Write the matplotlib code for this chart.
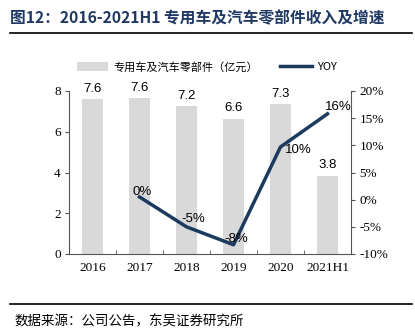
import matplotlib
matplotlib.use("Agg")
import matplotlib.pyplot as plt
from matplotlib.lines import Line2D
from matplotlib.patches import Patch

categories = ["2016", "2017", "2018", "2019", "2020", "2021H1"]
revenue = [7.6, 7.65, 7.25, 6.65, 7.35, 3.85]
revenue_labels = ["7.6", "7.6", "7.2", "6.6", "7.3", "3.8"]
yoy_cats = ["2017", "2018", "2019", "2020", "2021H1"]
yoy = [0.5, -5.0, -8.3, 9.7, 15.8]
yoy_labels = ["0%", "-5%", "-8%", "10%", "16%"]
left_ticks = [0, 2, 4, 6, 8]
right_ticks = [-10, -5, 0, 5, 10, 15, 20]

CJK = ["Noto Sans CJK SC", "DejaVu Sans"]
SERIF = ["Liberation Serif", "Noto Sans CJK SC"]
SANS = ["Liberation Sans", "DejaVu Sans"]

navy = "#1B3A5E"
gray = "#D9D9D9"

fig = plt.figure(figsize=(4.15, 3.33), dpi=100)
W, H = 415, 333
ax = fig.add_axes([69 / W, 1 - 254 / H, (351 - 69) / W, (254 - 91) / H])

x = list(range(len(categories)))
ax.bar(x, revenue, width=0.45, color=gray, zorder=1)
for xi, v, lab in zip(x, revenue, revenue_labels):
    ax.text(xi, v + 0.2, lab, ha="center", va="bottom", fontsize=9.5, family=SANS)
ax.set_xlim(-0.5, len(categories) - 0.5)
ax.set_ylim(0, 8)
ax.set_yticks(left_ticks)
ax.set_yticklabels([str(t) for t in left_ticks], family=SERIF, fontsize=9.5)
ax.set_xticks(x)
ax.set_xticklabels(categories, family=SERIF, fontsize=9.5)
ax.set_xticks([i + 0.5 for i in range(-1, len(categories))], minor=True)
ax.tick_params(axis="x", which="major", length=0, pad=6)
ax.tick_params(axis="x", which="minor", length=3, direction="in", color="#555555")
ax.tick_params(axis="y", length=3, direction="out", color="#555555", pad=3)
for s in ["top", "right"]:
    ax.spines[s].set_visible(False)
for s in ["left", "bottom"]:
    ax.spines[s].set_color("#555555")
    ax.spines[s].set_linewidth(0.8)

ax2 = ax.twinx()
xy = [categories.index(c) for c in yoy_cats]
ax2.plot(xy, yoy, color=navy, linewidth=2.5, zorder=3)
ax2.set_ylim(-10, 20)
ax2.set_yticks(right_ticks)
ax2.set_yticklabels([f"{t}%" for t in right_ticks], family=SERIF, fontsize=9.5)
ax2.tick_params(axis="y", length=3, direction="out", color="#555555", pad=3)
for s in ["top", "left", "bottom"]:
    ax2.spines[s].set_visible(False)
ax2.spines["right"].set_color("#555555")
ax2.spines["right"].set_linewidth(0.8)

offsets = [(0.05, 0.9), (0.15, 1.5), (0.06, 1.0), (0.37, -0.5), (0.24, 1.3)]
for xi, v, lab, (dx, dy) in zip(xy, yoy, yoy_labels, offsets):
    ax2.text(xi + dx, v + dy, lab, ha="center", va="center", fontsize=9.5,
             family=SANS, zorder=4)

# title
fig.text(10 / W, 1 - 18 / H, "图12：2016-2021H1 专用车及汽车零部件收入及增速",
         fontsize=11.3, fontweight="bold", color="#1F3864", family=["Noto Sans CJK SC"],
         ha="left", va="center")
fig.add_artist(Line2D([10 / W, 412 / W], [1 - 33 / H, 1 - 33 / H], color="black", linewidth=1.2))

# legend
handles = [Patch(facecolor=gray, edgecolor="none"), Line2D([0], [0], color=navy, linewidth=2.5)]
leg = fig.legend(handles, ["专用车及汽车零部件（亿元）", "YOY"], loc="center",
                 bbox_to_anchor=(207 / W, 1 - 67 / H), ncol=2, frameon=False,
                 prop={"family": CJK, "size": 8}, handlelength=2.8, handleheight=0.9,
                 columnspacing=2.0, handletextpad=0.5)

# source
fig.add_artist(Line2D([10 / W, 412 / W], [1 - 304 / H, 1 - 304 / H], color="black", linewidth=1.2))
fig.text(14 / W, 1 - 321 / H, "数据来源：公司公告，东吴证券研究所", fontsize=9.7,
         family=CJK, ha="left", va="center")

fig.savefig("out.png", dpi=100)
